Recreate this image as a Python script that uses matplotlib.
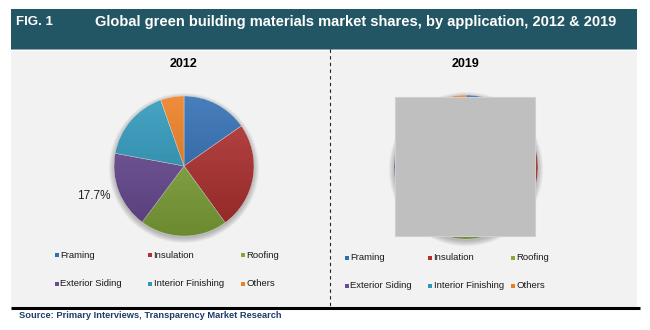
import numpy as np
import matplotlib
matplotlib.use('Agg')
import matplotlib.pyplot as plt
from matplotlib.patches import Rectangle, Circle
from matplotlib import font_manager

# data
categories = ['Framing', 'Insulation', 'Roofing',
              'Exterior Siding', 'Interior Finishing', 'Others']
share_2012 = [15.3, 24.7, 20.2, 17.7, 16.7, 5.4]
share_2019 = [15.0, 25.2, 20.8, 17.5, 16.2, 5.3]
colors = ['#2f6db3', '#b0302f', '#84a83c', '#6a4b94', '#2e98bb', '#ec7e22']

W, H = 650, 330

def has_font(name):
    try:
        font_manager.findfont(name, fallback_to_default=False)
        return True
    except Exception:
        return False

narrow = ['Liberation Sans Narrow', 'Liberation Sans'] if has_font('Liberation Sans Narrow') else ['Liberation Sans']
plt.rcParams['font.family'] = ['Liberation Sans', 'DejaVu Sans']

fig = plt.figure(figsize=(W / 100, H / 100), dpi=100)
fig.patch.set_facecolor('white')

bg = fig.add_axes([0, 0, 1, 1])
bg.set_xlim(0, W)
bg.set_ylim(H, 0)
bg.axis('off')

# header band and panel
bg.add_patch(Rectangle((11, 9), 626, 40, facecolor='#235665', edgecolor='none'))
bg.add_patch(Rectangle((11, 49), 626, 1.2, facecolor='#8aa4ad', edgecolor='none'))
bg.add_patch(Rectangle((11, 51), 626, 256, facecolor='#f2f2f2', edgecolor='none'))
bg.plot([11, 640], [308, 308], color='black', lw=2.2, solid_capstyle='butt')
bg.plot([330, 330], [49, 306], color='#222222', lw=0.8, ls=(0, (3, 3)))

bg.text(16, 22, 'FIG. 1', color='white', fontsize=9.5, fontweight='bold',
        family=narrow, va='center', ha='left')
bg.text(95, 22, 'Global green building materials market shares, by application, 2012 & 2019',
        color='white', fontsize=10.5, fontweight='bold', family=narrow,
        va='center', ha='left')
bg.text(19, 316, 'Source: Primary Interviews, Transparency Market Research',
        color='#1f3c6b', fontsize=6.7, fontweight='bold', family=narrow,
        va='center', ha='left')


def draw_pie(values, cx, cy, r, year):
    pad = 1.12
    ax = fig.add_axes([(cx - r * pad) / W, 1 - (cy + r * pad) / H,
                       2 * r * pad / W, 2 * r * pad / H])
    # soft shadow
    for k in range(6):
        ax.add_patch(Circle((0, -0.03), 1.0 + 0.014 * k, facecolor='#000000',
                            alpha=0.045, edgecolor='none', zorder=0))
    wedges, _ = ax.pie(values, colors=colors, startangle=90, counterclock=False,
                       wedgeprops=dict(linewidth=0.3, edgecolor='#dddddd'))
    for w in wedges:
        w.set_zorder(2)
    # shading gradient
    grad = np.zeros((100, 2, 4))
    grad[:, :, 3] = np.linspace(0.0, 0.18, 100)[:, None]
    top = np.zeros((100, 2, 4))
    top[:, :, :3] = 1
    top[:, :, 3] = np.linspace(0.12, 0.0, 100)[:, None]
    circ = Circle((0, 0), 1, transform=ax.transData)
    im = ax.imshow(grad, extent=(-1, 1, -1, 1), origin='upper', zorder=3, aspect='auto')
    im.set_clip_path(circ)
    circ2 = Circle((0, 0), 1, transform=ax.transData)
    im2 = ax.imshow(top, extent=(-1, 1, -1, 1), origin='upper', zorder=3, aspect='auto')
    im2.set_clip_path(circ2)
    ax.set_xlim(-pad, pad)
    ax.set_ylim(-pad, pad)
    ax.set_aspect('equal')
    ax.axis('off')
    bg.text(cx, 64, year, fontsize=9, fontweight='bold', ha='center', va='center')
    return ax, wedges


ax12, w12 = draw_pie(share_2012, 184, 166, 70, '2012')
ax19, w19 = draw_pie(share_2019, 466, 167, 72, '2019')

# label for exterior siding 2012
bg.text(94, 196, '%.1f%%' % share_2012[3], fontsize=8.5, ha='center', va='center',
        color='#222222')

# grey box covering the 2019 pie
fig.add_artist(Rectangle((395, 97), 140, 139, facecolor='#bfbfbf',
                         edgecolor='#cfcfcf', lw=0.8, transform=bg.transData, zorder=10))


def draw_legend(x0, y0, dx, dy):
    for i, name in enumerate(categories):
        x = x0 + (i % 3) * dx
        y = y0 + (i // 3) * dy
        bg.scatter([x], [y], marker='s', s=7, color=colors[i], linewidths=0)
        bg.text(x + 3.5, y, name, fontsize=6.8, va='center', ha='left', color='#1a1a1a')


draw_legend(57, 255, 93, 29)
draw_legend(347, 258, 83, 28)

fig.savefig('out.png', dpi=100, facecolor='white')
